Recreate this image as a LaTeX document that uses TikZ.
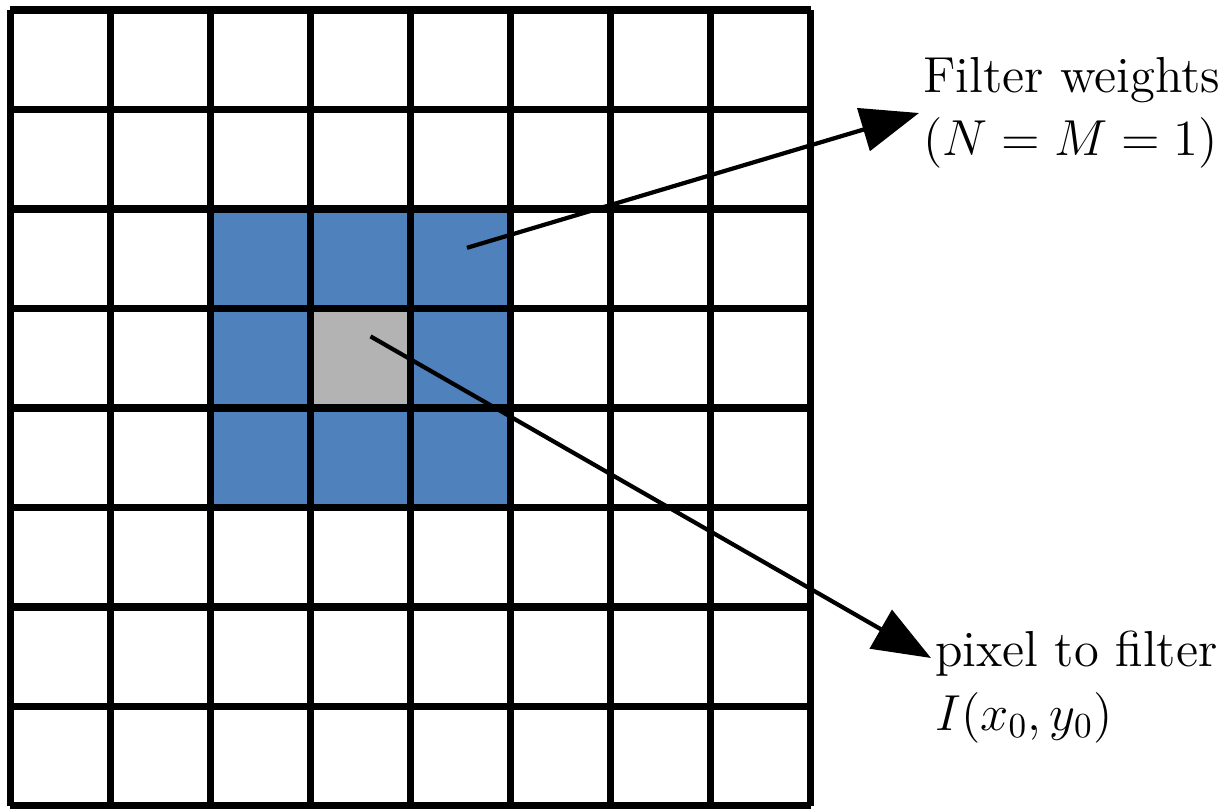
\documentclass[tikz,border=0pt]{standalone}
\usepackage{amsmath}
\usepackage{xcolor}
\usepackage{tikz}
\usetikzlibrary{arrows.meta, positioning}

\definecolor{weightblue}{RGB}{79,129,189}
\definecolor{pixelgray}{RGB}{179,179,179}

\begin{document}
\begin{tikzpicture}[
  font=\Large,
  gridline/.style={
    draw=black,
    line width=2.2pt
  },
  weightcell/.style={
    fill=weightblue
  },
  pixelcell/.style={
    fill=pixelgray
  },
  arrow/.style={
    draw=black,
    -{Triangle[length=0.58cm, width=0.44cm]},
    line width=1.2pt
  },
  label/.style={
    align=left,
    anchor=west,
    inner sep=1pt
  }
]

\useasboundingbox (0,0) rectangle (12.31,8.08);

% Image grid with the filter window
\begin{scope}[shift={(0.105,0.02)}, yscale=0.995]
  \fill[weightcell] (2,3) rectangle (5,6);
  \fill[pixelcell] (3,4) rectangle (4,5);
  \draw[gridline] (0,0) grid (8,8);
  \coordinate (wstart) at (4.565,5.61);
  \coordinate (pstart) at (3.6,4.72);
\end{scope}

% Labels
\node[label] (weights) at (9.19,6.95)
{Filter weights\\
$(N = M = 1)$};

\node[label] (pixel) at (9.31,1.21)
{pixel to filter\\
$I(x_0, y_0)$};

% Arrows
\draw[arrow] (wstart) -- (weights.west);
\draw[arrow] (pstart) -- ([yshift=0.29cm]pixel.west);

\end{tikzpicture}
\end{document}
